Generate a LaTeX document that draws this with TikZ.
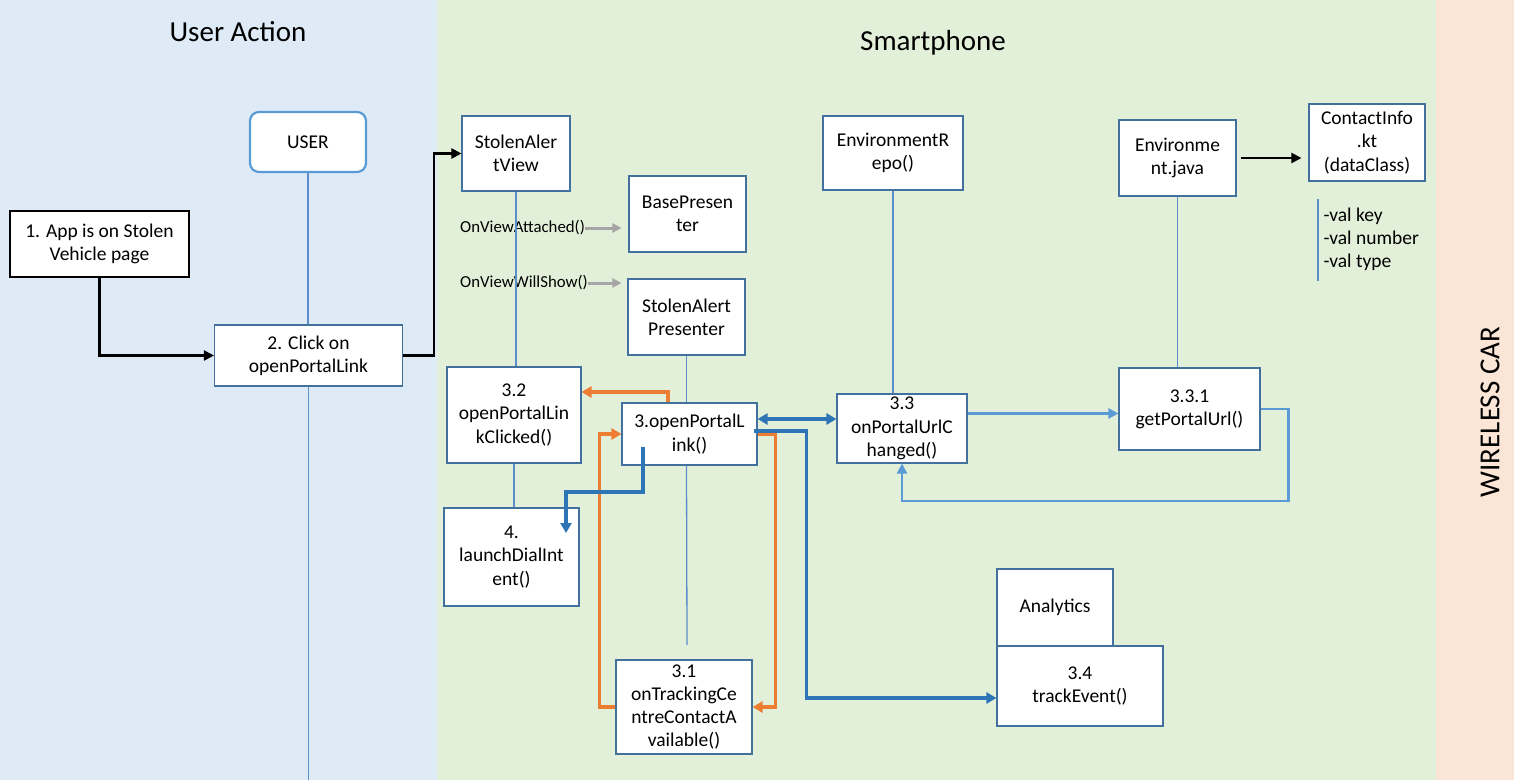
\documentclass[tikz,border=0pt]{standalone}
\usepackage{fontspec}
\setmainfont{Carlito}
\usetikzlibrary{arrows.meta}
\definecolor{laneuser}{HTML}{DEEBF7}
\definecolor{lanephone}{HTML}{E2F0D9}
\definecolor{lanecar}{HTML}{FBE5D6}
\definecolor{boxline}{HTML}{41719C}
\definecolor{lifeline}{HTML}{5B8FCB}
\definecolor{callorange}{HTML}{ED7D31}
\definecolor{calldark}{HTML}{2E75B6}
\definecolor{calllight}{HTML}{5B9BD5}
\definecolor{hintgray}{HTML}{A5A5A5}
\begin{document}
\begin{tikzpicture}[x=1pt, y=-1pt,
	box/.style={draw=boxline, line width=1.1pt, fill=white, align=center, inner sep=0pt, font=\fontsize{19.5}{23.2}\selectfont},
	lane/.style={font=\fontsize{29}{34}\selectfont},
	hint/.style={anchor=west, inner sep=0pt, font=\fontsize{16.8}{19}\selectfont},
	life/.style={draw=lifeline, line width=1.3pt},
	blk/.style={line width=2.2pt, -{Triangle[length=10pt,width=10pt]}},
	orng/.style={draw=callorange, line width=3.4pt, -{Triangle[length=10pt,width=11pt]}},
	dkb/.style={draw=calldark, line width=3.4pt, -{Triangle[length=10pt,width=11pt]}},
	ltb/.style={draw=calllight, line width=2.3pt, -{Triangle[length=10pt,width=10pt]}},
	gry/.style={draw=hintgray, line width=3pt, -{Triangle[length=9pt,width=9pt]}}]
	\useasboundingbox (0,0) rectangle (1514,780);
	\fill[laneuser] (0,0) rectangle (437,780);
	\fill[lanephone] (437,0) rectangle (1436,780);
	\fill[lanecar] (1436,0) rectangle (1514,780);
	
	\node[lane] (useraction) at (238,32) {User Action};
	\node[lane] (smartphone) at (933,43) {Smartphone};
	\node[lane, rotate=90] (wirelesscar) at (1490,412) {WIRELESS CAR};
	
	\node[box, draw=calllight, line width=2.2pt, rounded corners=9pt, minimum width=116pt, minimum height=60pt] (user) at (308,142) {USER};
	\node[box, draw=black, minimum width=179pt, minimum height=66pt] (app) at (99.5,244) {1. App is on Stolen\\Vehicle page};
	\node[box, minimum width=188pt, minimum height=61pt] (click) at (308.5,355.5) {2. Click on\\openPortalLink};
	
	\node[box, minimum width=108pt, minimum height=75pt] (view) at (516,153.5) {StolenAler\\tView};
	\node[box, minimum width=117pt, minimum height=76pt] (base) at (687.5,214) {BasePresen\\ter};
	\node[box, minimum width=117pt, minimum height=76pt] (presenter) at (686.5,317) {StolenAlert\\Presenter};
	\node[box, minimum width=134pt, minimum height=96pt] (clicked) at (514,415) {3.2\\openPortalLin\\kClicked()};
	\node[box, minimum width=135pt, minimum height=62pt] (open) at (689.5,434) {3.openPortalL\\ink()};
	\node[box, minimum width=135pt, minimum height=98pt] (dial) at (511.5,557) {4.\\launchDialInt\\ent()};
	\node[box, minimum width=136pt, minimum height=94pt] (tracking) at (684,707) {3.1\\onTrackingCe\\ntreContactA\\vailable()};
	
	\node[box, minimum width=140pt, minimum height=74pt] (repo) at (893,153) {EnvironmentR\\epo()};
	\node[box, minimum width=130pt, minimum height=69pt] (urlchanged) at (902,428.5) {3.3\\onPortalUrlC\\hanged()};
	\node[box, minimum width=117pt, minimum height=76pt] (envjava) at (1177.5,158) {Environme\\nt.java};
	\node[box, minimum width=116pt, minimum height=77pt] (contact) at (1367,142.5) {ContactInfo\\.kt\\(dataClass)};
	\node[box, minimum width=141pt, minimum height=82pt] (geturl) at (1189.5,409) {3.3.1\\getPortalUrl()};
	\node[box, minimum width=116pt, minimum height=77pt] (analytics) at (1055,607.5) {Analytics};
	\node[box, minimum width=166pt, minimum height=80pt] (track) at (1080,686) {3.4\\trackEvent()};
	
	\node[hint] (attached) at (460,228) {OnViewAttached()};
	\node[hint] (willshow) at (460,283) {OnViewWillShow()};
	\node[box, draw=none, fill=none, anchor=west, align=left] (fields) at (1323,239) {-val key\\-val number\\-val type};
	
	\coordinate (userend) at (308.5,780);
	\coordinate (presenterend) at (687,645);
	\coordinate (fieldstop) at (1318,199);
	\coordinate (fieldsbottom) at (1318,281);
	
	\draw[life] (user.south) -- (user.south |- click.north);
	\draw[life] (click.south) -- (userend);
	\draw[life] (view.south) -- (view.south |- clicked.north);
	\draw[life] (clicked.south) -- (clicked.south |- dial.north);
	\draw[life] (presenter.south) -- (presenter.south |- open.north);
	\draw[life] (presenter.south |- open.south) -- (presenterend);
	\draw[life] (repo.south) -- (repo.south |- urlchanged.north);
	\draw[life] (envjava.south) -- (envjava.south |- geturl.north);
	\draw[life] (fieldstop) -- (fieldsbottom);
	
	\draw[blk] (app.south) |- (click.west);
	\draw[blk] (click.east) -- ++(31,0) |- (view.west);
	\draw[blk, shorten <=4pt, shorten >=7pt] (envjava.east) -- (envjava.east -| contact.west);
	
	\draw[gry, shorten >=7pt] (attached.east) -- (attached.east -| base.west);
	\draw[gry, shorten >=6pt] (willshow.east) -- (willshow.east -| presenter.west);
	
	\draw[orng] ([xshift=-21.5pt]open.north) |- ([yshift=23pt]clicked.east);
	\draw[orng] (tracking.west) -- ++(-16,0) |- (open.west);
	\draw[orng] (open.east) -- ++(18,0) |- (tracking.east);
	
	\draw[dkb] ([xshift=-46.5pt,yshift=-13pt]open.center) -- ++(0,45) -| ([xshift=54.5pt,yshift=24pt]dial.center);
	\draw[dkb, {Triangle[length=10pt,width=11pt]}-{Triangle[length=10pt,width=11pt]}] ([yshift=15pt]open.east) -- ([yshift=15pt]open.east -| urlchanged.west);
	\draw[dkb] ([xshift=-4pt,yshift=3pt]open.east) -- ++(53,0) |- ([yshift=-12pt]track.west);
	
	\draw[ltb] ([yshift=15pt]urlchanged.east) -- ([yshift=15pt]urlchanged.east -| geturl.west);
	\draw[ltb] (geturl.east) -- ++(28,0) -- ++(0,92) -| (urlchanged.south);
\end{tikzpicture}
\end{document}
